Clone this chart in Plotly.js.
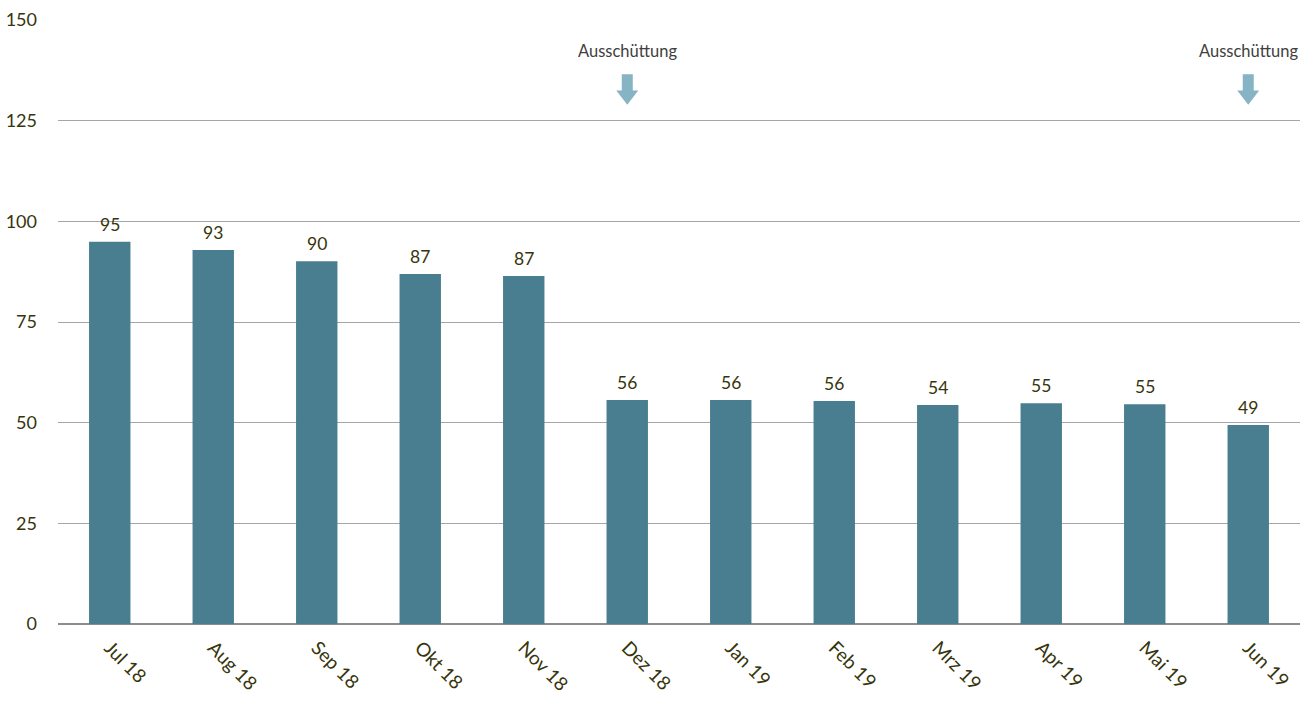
<!DOCTYPE html>
<html><head><meta charset="utf-8">
<script src="https://cdn.plot.ly/plotly-3.0.1.min.js"></script>
<style>html,body{margin:0;padding:0;background:#fff}</style>
</head><body>
<div id="chart" style="width:1304px;height:701px"></div>
<script>
const months = ['Jul 18','Aug 18','Sep 18','Okt 18','Nov 18','Dez 18','Jan 19','Feb 19','Mrz 19','Apr 19','Mai 19','Jun 19'];
const values = [94.9, 92.9, 90.1, 86.9, 86.4, 55.6, 55.6, 55.4, 54.4, 54.8, 54.6, 49.4];
const valueLabels = ['95','93','90','87','87','56','56','56','54','55','55','49'];
const payoutMonths = ['Dez 18','Jun 19'];
const payoutText = 'Ausschüttung';
const yTicks = [0,25,50,75,100,125,150];

const textColor = '#36350c';
const arrowColor = '#86b4c4';
const fontFam = 'Lato, "Open Sans", sans-serif';

const annotations = months.map((m,i)=>({
  x:m, y:values[i], xref:'x', yref:'y', text:valueLabels[i], showarrow:false,
  yanchor:'bottom', yshift:5, font:{family:fontFam, size:17.5, color:textColor}
}));
payoutMonths.forEach(m=>{
  annotations.push({x:m, y:142.3, xref:'x', yref:'y', text:payoutText, showarrow:false,
    font:{family:fontFam, size:16.5, color:'#404040'}});
  annotations.push({x:m, y:132.2, xref:'x', yref:'y', text:'', showarrow:true,
    ax:0, ay:-19, arrowhead:0, arrowwidth:11, arrowcolor:arrowColor, standoff:0});
});

Plotly.newPlot('chart',[{
  type:'bar', x:months, y:values, marker:{color:'#487e8f'}, hoverinfo:'skip'
},{
  type:'scatter', mode:'markers', x:payoutMonths, y:payoutMonths.map(()=>131.3),
  marker:{symbol:'triangle-down', size:19, color:arrowColor, line:{width:0}}, hoverinfo:'skip'
}],{
  width:1304, height:701,
  margin:{l:58, r:4, t:20, b:77},
  paper_bgcolor:'#fff', plot_bgcolor:'#fff',
  bargap:0.6, showlegend:false,
  font:{family:fontFam, color:textColor},
  xaxis:{type:'category', categoryarray:months, range:[-0.5, months.length-0.5], tickangle:45,
    tickfont:{family:fontFam,size:19,color:textColor}, automargin:false,
    showgrid:false, showline:false, ticks:'', zeroline:false, ticklabelstandoff:8},
  yaxis:{range:[0,150], tickvals:yTicks, ticktext:yTicks.map(String), showgrid:true, gridcolor:'#a6a6a6', gridwidth:1,
    zeroline:true, zerolinecolor:'#8c8c8c', zerolinewidth:1.5, showline:false, ticks:'', automargin:false,
    ticklabelstandoff:20, tickfont:{family:fontFam,size:18,color:textColor}},
  annotations:annotations
},{staticPlot:true});
</script>
</body></html>
